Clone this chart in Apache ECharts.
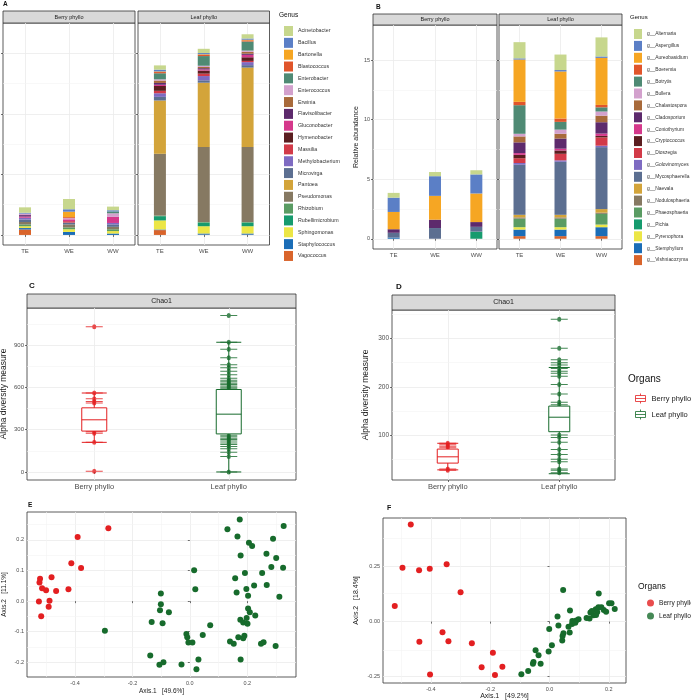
<!DOCTYPE html>
<html lang="en">
<head>
<meta charset="UTF-8">
<title>Phyllosphere communities</title>
<script src="https://cdn.jsdelivr.net/npm/echarts@6.0.0/dist/echarts.min.js"></script>
<style>
  html, body { margin: 0; padding: 0; background: #fff; }
  #main { width: 691px; height: 700px; }
</style>
</head>
<body>
<div id="main"></div>
<script>
// ---- data ----
const samples = ['TE', 'WE', 'WW'];
const organs = ['Berry phyllo', 'Leaf phyllo'];

const bacGenus = ['Acinetobacter', 'Bacillus', 'Bartonella', 'Blastococcus', 'Enterobacter', 'Enterococcus',
  'Erwinia', 'Flavisolibacter', 'Gluconobacter', 'Hymenobacter', 'Massilia', 'Methylobacterium', 'Microvirga',
  'Pantoea', 'Pseudomonas', 'Rhizobium', 'Rubellimicrobium', 'Sphingomonas', 'Staphylococcus', 'Vagococcus'];
const fungGenus = ['g__Alternaria', 'g__Aspergillus', 'g__Aureobasidium', 'g__Boeremia', 'g__Botrytis', 'g__Bullera',
  'g__Chalastospora', 'g__Cladosporium', 'g__Coniothyrium', 'g__Cryptococcus', 'g__Dioszegia', 'g__Golovinomyces',
  'g__Mycosphaerella', 'g__Naevala', 'g__Nodulosphaeria', 'g__Phaeosphaeria', 'g__Pichia', 'g__Pyrenophora',
  'g__Stemphylium', 'g__Vishniacozyma'];
const genusColors = ['#c7d78d', '#5b7fc6', '#f6a623', '#e0552b', '#4f8a74', '#d3a1cd', '#a86a3b', '#5d2a6c',
  '#d5388b', '#5b1e20', '#d23a48', '#7e6bc2', '#5c6f91', '#d3a43a', '#867962', '#5a9c63', '#169b6e', '#ece646',
  '#1b6db7', '#d9642b'];

// panel A, values in genus order
const aBerryTE = [0.45, 0.07, 0, 0, 0, 0.12, 0, 0.12, 0.1, 0, 0, 0.15, 0.2, 0, 0.2, 0.15, 0, 0.15, 0.12, 0.45];
const aBerryWE = [0.85, 0.2, 0.45, 0.08, 0, 0.1, 0, 0, 0.15, 0, 0.12, 0, 0.15, 0, 0.25, 0.15, 0, 0.22, 0.25, 0];
const aBerryWW = [0.3, 0.1, 0, 0, 0.15, 0.3, 0, 0, 0.5, 0, 0, 0.12, 0.2, 0, 0.2, 0.15, 0, 0.2, 0.12, 0];
const aLeafTE = [0.35, 0.15, 0.05, 0.1, 0.5, 0.1, 0.2, 0.15, 0.1, 0.4, 0.2, 0.3, 0.3, 4.4, 5.1, 0.05, 0.35, 0.75, 0.05, 0.4];
const aLeafWE = [0.35, 0.1, 0.05, 0.1, 0.8, 0.1, 0.1, 0.1, 0.1, 0.25, 0.2, 0.35, 0.2, 5.3, 6.2, 0.05, 0.3, 0.6, 0.1, 0.02];
const aLeafWW = [0.35, 0.1, 0.05, 0.1, 0.75, 0.1, 0.15, 0.1, 0.2, 0.3, 0.1, 0.25, 0.2, 6.55, 6.2, 0.05, 0.3, 0.6, 0.1, 0.02];

// panel B
const bBerryTE = [0.4, 1.2, 1.45, 0, 0, 0, 0, 0.3, 0, 0, 0, 0, 0.4, 0, 0, 0, 0, 0, 0.1, 0];
const bBerryWE = [0.35, 1.65, 2.0, 0, 0, 0, 0, 0.7, 0, 0, 0, 0, 0.9, 0, 0, 0, 0, 0, 0, 0];
const bBerryWW = [0.35, 1.6, 2.4, 0, 0, 0, 0, 0.4, 0, 0, 0, 0, 0.4, 0, 0, 0, 0.6, 0, 0, 0];
const bLeafTE = [1.36, 0.1, 3.55, 0.28, 2.4, 0.22, 0.5, 0.9, 0.15, 0.28, 0.4, 0.15, 4.2, 0.22, 0.1, 0.72, 0, 0.2, 0.55, 0.22];
const bLeafWE = [1.3, 0.12, 3.95, 0.28, 0.65, 0.35, 0.4, 0.85, 0.15, 0.28, 0.55, 0.12, 4.45, 0.22, 0.1, 0.72, 0, 0.2, 0.55, 0.22];
const bLeafWW = [1.6, 0.12, 3.95, 0.2, 0.35, 0.35, 0.55, 0.95, 0.2, 0.12, 0.7, 0.12, 5.2, 0.3, 0.1, 0.9, 0, 0.22, 0.75, 0.22];
const abTicks = [0, 5, 10, 15];
const abMinor = [2.5, 7.5, 12.5];

// panel C (Chao1, bacteria): [min, Q1, median, Q3, max]
const cBerryBox = [210, 290, 370, 455, 560];
const cLeafBox = [0, 270, 410, 585, 920];
const cBerryPts = [1030, 560, 520, 500, 490, 285, 275, 210, 5];
const cLeafPts = [1110, 920, 870, 810, 760, 740, 715, 690, 665, 650, 640, 630, 620, 610, 600, 590,
  260, 250, 240, 230, 220, 205, 195, 180, 165, 140, 110, 0];
const cTicks = [0, 300, 600, 900];
const cMinor = [150, 450, 750, 1050];

// panel D (Chao1, fungi)
const dBerryBox = [28, 42, 55, 71, 83];
const dLeafBox = [20, 107, 137, 160, 240];
const dBerryPts = [83, 80, 77, 74, 30, 27];
const dLeafPts = [340, 280, 256, 250, 245, 238, 232, 228, 222, 205, 185, 168, 163, 100, 95, 85, 70, 60, 50, 45, 30, 27, 22];
const dTicks = [100, 200, 300];
const dMinor = [50, 150, 250, 350];

// panel E (PCoA, bacteria)
const eBerry = [[-0.284, 0.238], [-0.391, 0.21], [-0.413, 0.124], [-0.379, 0.108], [-0.482, 0.078], [-0.522, 0.073],
  [-0.524, 0.061], [-0.515, 0.042], [-0.501, 0.036], [-0.466, 0.033], [-0.423, 0.039], [-0.526, -0.001],
  [-0.489, 0.001], [-0.492, -0.018], [-0.518, -0.049]];
const eLeaf = [[-0.296, -0.097], [-0.101, 0.025], [-0.101, -0.01], [-0.104, -0.03], [-0.073, -0.036], [-0.133, -0.068],
  [-0.095, -0.072], [-0.138, -0.178], [-0.106, -0.208], [-0.092, -0.2], [-0.029, -0.207], [0.015, 0.101],
  [0.019, 0.039], [-0.012, -0.107], [-0.009, -0.118], [-0.005, -0.135], [0.009, -0.135], [0.045, -0.111],
  [0.071, -0.079], [0.03, -0.191], [0.023, -0.223], [0.131, 0.235], [0.174, 0.267], [0.166, 0.211],
  [0.206, 0.191], [0.217, 0.18], [0.177, 0.149], [0.267, 0.155], [0.301, 0.141], [0.327, 0.246], [0.29, 0.204],
  [0.192, 0.092], [0.158, 0.075], [0.252, 0.092], [0.284, 0.112], [0.325, 0.109], [0.197, 0.04], [0.224, 0.051],
  [0.268, 0.053], [0.163, 0.028], [0.203, 0.018], [0.312, 0.014], [0.203, -0.024], [0.209, -0.036],
  [0.228, -0.047], [0.198, -0.055], [0.176, -0.061], [0.186, -0.07], [0.201, -0.074], [0.169, -0.118],
  [0.19, -0.113], [0.186, -0.121], [0.14, -0.132], [0.153, -0.139], [0.248, -0.139], [0.257, -0.134],
  [0.299, -0.147], [0.177, -0.191]];
const eXTicks = [-0.4, -0.2, 0, 0.2];
const eYTicks = [-0.2, -0.1, 0, 0.1, 0.2];
const eXMinor = [-0.5, -0.3, -0.1, 0.1, 0.3];
const eYMinor = [-0.15, -0.05, 0.05, 0.15, 0.25];

// panel F (PCoA, fungi)
const fBerry = [[-0.468, 0.441], [-0.496, 0.245], [-0.44, 0.233], [-0.404, 0.24], [-0.347, 0.261], [-0.3, 0.134],
  [-0.522, 0.071], [-0.361, -0.048], [-0.439, -0.091], [-0.341, -0.089], [-0.262, -0.098], [-0.191, -0.142],
  [-0.229, -0.207], [-0.159, -0.205], [-0.184, -0.243], [-0.403, -0.24]];
const fLeaf = [[-0.095, -0.239], [-0.072, -0.224], [-0.054, -0.184], [-0.056, -0.192], [-0.03, -0.192],
  [-0.047, -0.13], [-0.037, -0.153], [-0.003, -0.136], [0.008, -0.107], [-0.001, -0.033], [0.043, -0.086],
  [0.044, -0.065], [0.047, -0.053], [0.068, -0.05], [0.027, 0.023], [0.03, -0.018], [0.046, 0.144],
  [0.069, 0.051], [0.064, -0.023], [0.076, -0.011], [0.077, 0.003], [0.09, 0.005], [0.098, 0.011],
  [0.087, -0.005], [0.125, 0.017], [0.138, 0.042], [0.149, 0.029], [0.135, 0.014], [0.156, 0.056],
  [0.165, 0.065], [0.161, 0.044], [0.183, 0.053], [0.191, 0.045], [0.201, 0.083], [0.209, 0.083],
  [0.22, 0.057], [0.166, 0.128], [0.157, 0.03], [0.175, 0.065], [0.143, 0.048]];
const fXTicks = [-0.4, -0.2, 0, 0.2];
const fYTicks = [-0.25, 0, 0.25];
const fXMinor = [-0.5, -0.3, -0.1, 0.1];
const fYMinor = [-0.125, 0.125, 0.375];

// ---- styling ----
const ink = '#4d4d4d';
const frame = '#333333';
const gridCol = '#ebebeb';
const minorCol = '#f4f4f4';
const red = '#e31f21';
const green = '#176b2c';
const font = 'Liberation Sans, Arial, sans-serif';

const grids = [], xAxes = [], yAxes = [], series = [];

function addGrid(left, top, width, height) {
  grids.push({ left, top, width, height, show: true, backgroundColor: '#fff', borderColor: frame,
    borderWidth: 0.8, containLabel: false, outerBoundsMode: 'none' });
  return grids.length - 1;
}

function catAxis(gi, data, fs, margin) {
  return { type: 'category', gridIndex: gi, data,
    axisLine: { show: false },
    axisTick: { show: true, alignWithLabel: true, length: 2, lineStyle: { color: frame, width: 0.7 } },
    axisLabel: { fontSize: fs, color: ink, margin: margin, fontFamily: font },
    splitLine: { show: true, alignWithLabel: true, lineStyle: { color: gridCol, width: 0.8 } } };
}

function valAxis(gi, min, max, ticks, opts) {
  opts = opts || {};
  return { type: 'value', gridIndex: gi, min, max, scale: true,
    axisLine: { show: false },
    axisTick: { show: true, length: 2, customValues: ticks, lineStyle: { color: frame, width: 0.7 } },
    axisLabel: { show: opts.labels !== false, customValues: ticks, fontSize: opts.fs || 6, color: ink,
      margin: 3, fontFamily: font, formatter: opts.fmt || (v => String(v)) },
    splitLine: { show: true, lineStyle: { color: gridCol, width: 0.8 } },
    name: opts.name || '', nameLocation: 'middle', nameGap: opts.gap || 10,
    nameTextStyle: { fontSize: opts.nameFs || 7, color: '#1a1a1a', fontFamily: font } };
}

// faint minor grid lines, kept underneath the marks
function minorLines(gi, axisKey, values) {
  series.push({ type: 'line', xAxisIndex: gi, yAxisIndex: gi, data: [], silent: true, z: 0,
    markLine: { silent: true, symbol: 'none', animation: false, z: 0, label: { show: false },
      lineStyle: { color: minorCol, width: 0.6, type: 'solid' },
      data: values.map(v => ({ [axisKey]: v })) } });
}

function addStack(gi, genus, tables, stackId) {
  for (let g = genus.length - 1; g >= 0; g--) {
    series.push({ type: 'bar', name: genus[g], xAxisIndex: gi, yAxisIndex: gi, stack: stackId,
      barWidth: 12, itemStyle: { color: genusColors[g] }, data: tables.map(t => t[g]), z: 2 });
  }
}

// ---- panel A ----
const aB = addGrid(3, 23, 132, 222);
const aL = addGrid(138, 23, 131.5, 222);
[aB, aL].forEach(gi => {
  xAxes.push(catAxis(gi, samples, 6, 3));
  yAxes.push(valAxis(gi, -0.83, 17.5, abTicks, { labels: false }));
  minorLines(gi, 'yAxis', abMinor);
});
addStack(aB, bacGenus, [aBerryTE, aBerryWE, aBerryWW], 'aB');
addStack(aL, bacGenus, [aLeafTE, aLeafWE, aLeafWW], 'aL');

// ---- panel B ----
const bB = addGrid(373, 25, 124, 224);
const bL = addGrid(499, 25, 123, 224);
[bB, bL].forEach(gi => {
  xAxes.push(catAxis(gi, samples, 6, 3));
  yAxes.push(valAxis(gi, -0.86, 17.94, abTicks, gi === bB
    ? { fs: 5.5, name: 'Relative abundance', gap: 11, nameFs: 7 } : { labels: false }));
  minorLines(gi, 'yAxis', abMinor);
});
addStack(bB, fungGenus, [bBerryTE, bBerryWE, bBerryWW], 'bB');
addStack(bL, fungGenus, [bLeafTE, bLeafWE, bLeafWW], 'bL');

// ---- panels C, D ----
const dashDot = 'path://M0,2.5h20v1h-20z M10,0.5a2.5,2.5 0 1,1 0,5a2.5,2.5 0 1,1 0,-5z';
function chaoPanel(gi, berryBox, leafBox, berryPts, leafPts, boxW) {
  series.push({ type: 'scatter', name: 'Berry phyllo', xAxisIndex: gi, yAxisIndex: gi, symbol: dashDot,
    symbolSize: [17, 5], symbolKeepAspect: false, itemStyle: { color: red }, z: 2,
    data: berryPts.map(v => [0, v]) });
  series.push({ type: 'scatter', name: 'Leaf phyllo', xAxisIndex: gi, yAxisIndex: gi, symbol: dashDot,
    symbolSize: [17, 5], symbolKeepAspect: false, itemStyle: { color: green }, z: 2,
    data: leafPts.map(v => [1, v]) });
  series.push({ type: 'boxplot', xAxisIndex: gi, yAxisIndex: gi, boxWidth: [boxW, boxW], z: 3,
    data: [
      { value: berryBox, itemStyle: { color: '#fff', borderColor: red, borderWidth: 1 } },
      { value: leafBox, itemStyle: { color: '#fff', borderColor: green, borderWidth: 1 } }
    ] });
}

const cG = addGrid(27, 308, 269, 172);
xAxes.push(catAxis(cG, organs, 7.5, 3));
yAxes.push(valAxis(cG, -57, 1163, cTicks, { fs: 6, name: 'Alpha diversity measure', gap: 19, nameFs: 8.5 }));
minorLines(cG, 'yAxis', cMinor);
chaoPanel(cG, cBerryBox, cLeafBox, cBerryPts, cLeafPts, 25);

const dG = addGrid(392, 310, 223, 170);
xAxes.push(catAxis(dG, organs, 7.5, 3));
yAxes.push(valAxis(dG, 7, 359, dTicks, { fs: 6.5, name: 'Alpha diversity measure', gap: 22, nameFs: 8.5 }));
minorLines(dG, 'yAxis', dMinor);
chaoPanel(dG, dBerryBox, dLeafBox, dBerryPts, dLeafPts, 21);

// ---- panels E, F ----
function pcoaPanel(gi, berry, leaf) {
  series.push({ type: 'scatter', name: 'Berry phyllo', xAxisIndex: gi, yAxisIndex: gi, symbolSize: 6,
    itemStyle: { color: red, opacity: 1 }, z: 3, data: berry });
  series.push({ type: 'scatter', name: 'Leaf phyllo', xAxisIndex: gi, yAxisIndex: gi, symbolSize: 6,
    itemStyle: { color: green, opacity: 1 }, z: 3, data: leaf });
}

const eG = addGrid(27, 512, 269, 165);
xAxes.push(valAxis(eG, -0.5675, 0.37, eXTicks, { fs: 5.5, fmt: v => v.toFixed(1), name: 'Axis.1   [49.6%]', gap: 11, nameFs: 6.5 }));
yAxes.push(valAxis(eG, -0.248, 0.2915, eYTicks, { fs: 5.5, fmt: v => v.toFixed(1), name: 'Axis.2   [11.1%]', gap: 19, nameFs: 6.5 }));
minorLines(eG, 'xAxis', eXMinor);
minorLines(eG, 'yAxis', eYMinor);
pcoaPanel(eG, eBerry, eLeaf);

const fG = addGrid(383, 518, 243, 165);
xAxes.push(valAxis(fG, -0.5617, 0.258, fXTicks, { fs: 5.5, fmt: v => v.toFixed(1), name: 'Axis.1   [49.2%]', gap: 10, nameFs: 7 }));
yAxes.push(valAxis(fG, -0.279, 0.471, fYTicks, { fs: 5.5, fmt: v => v.toFixed(2), name: 'Axis.2   [18.4%]', gap: 23, nameFs: 7 }));
minorLines(fG, 'xAxis', fXMinor);
minorLines(fG, 'yAxis', fYMinor);
pcoaPanel(fG, fBerry, fLeaf);

// ---- strips, letters, legend titles ----
function strip(x, y, w, h, label, fs) {
  return { type: 'group', children: [
    { type: 'rect', shape: { x, y, width: w, height: h }, style: { fill: '#d9d9d9', stroke: frame, lineWidth: 0.8 } },
    { type: 'text', x: x + w / 2, y: y + h / 2, style: { text: label, fill: '#1a1a1a', font: fs + 'px ' + font,
      align: 'center', verticalAlign: 'middle', textAlign: 'center', textVerticalAlign: 'middle' } }
  ] };
}
function label(x, y, text, fs, weight) {
  return { type: 'text', x, y, style: { text, fill: '#111', font: (weight || 'normal') + ' ' + fs + 'px ' + font,
    align: 'left', verticalAlign: 'middle', textAlign: 'left', textVerticalAlign: 'middle' } };
}

const graphics = [
  strip(3, 11, 132, 12, 'Berry phyllo', 5.5), strip(138, 11, 131.5, 12, 'Leaf phyllo', 5.5),
  strip(373, 14, 124, 11, 'Berry phyllo', 5.5), strip(499, 14, 123, 11, 'Leaf phyllo', 5.5),
  strip(27, 294, 269, 14, 'Chao1', 7), strip(392, 295, 223, 15, 'Chao1', 7),
  label(3, 4, 'A', 6.5, 'bold'), label(376, 7, 'B', 6.5, 'bold'), label(29, 286, 'C', 8, 'bold'),
  label(396, 287, 'D', 8, 'bold'), label(28, 505, 'E', 6.5, 'bold'), label(387, 508, 'F', 7, 'bold'),
  label(279, 15, 'Genus', 6.5), label(630, 17, 'Genus', 6),
  label(628, 379, 'Organs', 10), label(638, 587, 'Organs', 8.5)
];

const boxIcon = 'path://M5,0L5,2 M0,2L10,2L10,8L0,8Z M0,5L10,5 M5,8L5,10';

const option = {
  animation: false,
  backgroundColor: '#fff',
  textStyle: { fontFamily: font },
  grid: grids,
  xAxis: xAxes,
  yAxis: yAxes,
  series,
  graphic: graphics,
  legend: [
    { orient: 'vertical', left: 279, top: 21, itemWidth: 9, itemHeight: 10, itemGap: 1.84, icon: 'rect',
      selectedMode: false, data: bacGenus, textStyle: { fontSize: 5.3, color: '#333', fontFamily: font } },
    { orient: 'vertical', left: 629, top: 24, itemWidth: 8, itemHeight: 10, itemGap: 1.9, icon: 'rect',
      selectedMode: false, data: fungGenus, textStyle: { fontSize: 4.9, color: '#333', fontFamily: font } },
    { orient: 'vertical', left: 630, top: 388, itemWidth: 12, itemHeight: 10, itemGap: 5, selectedMode: false,
      textStyle: { fontSize: 7.5, color: '#222', fontFamily: font },
      data: [
        { name: 'Berry phyllo', icon: boxIcon, itemStyle: { color: '#fff', borderColor: red, borderWidth: 1 } },
        { name: 'Leaf phyllo', icon: boxIcon, itemStyle: { color: '#fff', borderColor: green, borderWidth: 1 } }
      ] },
    { orient: 'vertical', left: 642, top: 594.5, itemWidth: 7, itemHeight: 7, itemGap: 6, selectedMode: false,
      textStyle: { fontSize: 6.6, color: '#222', fontFamily: font },
      data: [
        { name: 'Berry phyllo', icon: 'circle', itemStyle: { color: red, borderWidth: 0 } },
        { name: 'Leaf phyllo', icon: 'circle', itemStyle: { color: green, borderWidth: 0 } }
      ] }
  ]
};

const chart = echarts.init(document.getElementById('main'));
chart.setOption(option);
window.addEventListener('resize', () => chart.resize());
</script>
</body>
</html>
